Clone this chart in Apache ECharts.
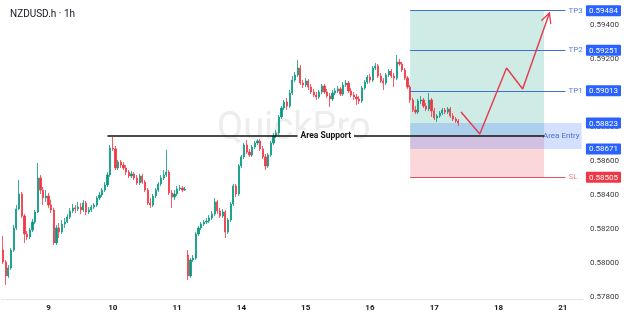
<!DOCTYPE html>
<html><head><meta charset="utf-8">
<script src="https://cdn.jsdelivr.net/npm/echarts@6/dist/echarts.min.js"></script>
<style>html,body{margin:0;padding:0;background:#fff}#c{width:624px;height:316px}</style>
</head><body><div id="c"></div><script>
// ---- data ----
const dayLabels = ['9','10','11','14','15','16','17','18','21'];
const firstDaySlot = 17, slotsPerDay = 24, totalSlots = 217;
// [open, close, low, high] hourly candles
const candles = [
 [0.58076,0.58006,0.57994,0.58159],[0.58006,0.57924,0.57871,0.58018],[0.57924,0.57971,0.57912,0.57988],
 [0.57971,0.58076,0.57959,0.58088],[0.58076,0.58206,0.58065,0.58224],[0.58206,0.58318,0.58194,0.58341],
 [0.58318,0.58406,0.58312,0.58488],[0.58406,0.58276,0.58265,0.58418],[0.58276,0.58171,0.58118,0.58288],
 [0.58171,0.58153,0.58135,0.58188],[0.58153,0.58194,0.58141,0.58206],[0.58194,0.58241,0.58182,0.58259],
 [0.58241,0.58300,0.58229,0.58312],[0.58300,0.58500,0.58294,0.58588],[0.58500,0.58429,0.58406,0.58518],
 [0.58429,0.58382,0.58341,0.58447],[0.58382,0.58394,0.58359,0.58429],[0.58394,0.58341,0.58324,0.58412],
 [0.58341,0.58312,0.58294,0.58371],[0.58312,0.58118,0.58106,0.58324],[0.58118,0.58206,0.58106,0.58224],
 [0.58206,0.58182,0.58147,0.58235],[0.58182,0.58229,0.58171,0.58253],[0.58229,0.58241,0.58206,0.58265],
 [0.58241,0.58271,0.58235,0.58288],[0.58271,0.58306,0.58259,0.58324],[0.58306,0.58324,0.58294,0.58347],
 [0.58324,0.58318,0.58294,0.58341],[0.58318,0.58329,0.58306,0.58359],[0.58329,0.58312,0.58288,0.58353],
 [0.58312,0.58353,0.58300,0.58371],[0.58353,0.58300,0.58282,0.58365],[0.58300,0.58312,0.58288,0.58329],
 [0.58312,0.58329,0.58300,0.58341],[0.58329,0.58341,0.58318,0.58353],[0.58341,0.58382,0.58329,0.58394],
 [0.58382,0.58400,0.58371,0.58418],[0.58400,0.58429,0.58388,0.58441],[0.58429,0.58459,0.58418,0.58476],
 [0.58459,0.58518,0.58447,0.58535],[0.58518,0.58676,0.58506,0.58694],[0.58676,0.58671,0.58659,0.58741],
 [0.58671,0.58559,0.58547,0.58688],[0.58559,0.58594,0.58547,0.58606],[0.58594,0.58576,0.58559,0.58606],
 [0.58576,0.58559,0.58547,0.58594],[0.58559,0.58535,0.58518,0.58576],[0.58535,0.58512,0.58500,0.58547],
 [0.58512,0.58524,0.58500,0.58541],[0.58524,0.58500,0.58488,0.58535],[0.58500,0.58471,0.58459,0.58518],
 [0.58471,0.58512,0.58459,0.58524],[0.58512,0.58476,0.58465,0.58524],[0.58476,0.58429,0.58418,0.58488],
 [0.58429,0.58353,0.58341,0.58441],[0.58353,0.58341,0.58324,0.58382],[0.58341,0.58394,0.58329,0.58406],
 [0.58394,0.58429,0.58382,0.58441],[0.58429,0.58465,0.58418,0.58476],[0.58465,0.58500,0.58453,0.58518],
 [0.58500,0.58518,0.58488,0.58547],[0.58518,0.58535,0.58506,0.58665],[0.58535,0.58412,0.58400,0.58547],
 [0.58412,0.58388,0.58324,0.58429],[0.58388,0.58406,0.58371,0.58429],[0.58406,0.58435,0.58394,0.58453],
 [0.58435,0.58441,0.58424,0.58459],[0.58441,0.58429,0.58418,0.58453],[0.58429,0.58435,0.58424,0.58447],
 [0.58047,0.57924,0.57900,0.58076],[0.57924,0.58018,0.57912,0.58029],[0.58018,0.58029,0.58006,0.58047],
 [0.58029,0.58171,0.58018,0.58182],[0.58171,0.58206,0.58159,0.58218],[0.58206,0.58229,0.58194,0.58241],
 [0.58229,0.58241,0.58218,0.58253],[0.58241,0.58247,0.58229,0.58265],[0.58247,0.58265,0.58235,0.58282],
 [0.58265,0.58288,0.58253,0.58306],[0.58288,0.58359,0.58276,0.58382],[0.58359,0.58306,0.58288,0.58371],
 [0.58306,0.58276,0.58265,0.58324],[0.58276,0.58300,0.58265,0.58318],[0.58300,0.58182,0.58147,0.58312],
 [0.58182,0.58253,0.58171,0.58265],[0.58253,0.58347,0.58241,0.58359],[0.58347,0.58453,0.58335,0.58465],
 [0.58453,0.58406,0.58388,0.58465],[0.58406,0.58571,0.58394,0.58582],[0.58571,0.58624,0.58559,0.58635],
 [0.58624,0.58694,0.58612,0.58706],[0.58694,0.58653,0.58641,0.58724],[0.58653,0.58635,0.58624,0.58671],
 [0.58635,0.58682,0.58624,0.58694],[0.58682,0.58706,0.58671,0.58718],[0.58706,0.58718,0.58694,0.58729],
 [0.58718,0.58671,0.58659,0.58729],[0.58671,0.58624,0.58612,0.58688],[0.58624,0.58571,0.58547,0.58641],
 [0.58571,0.58635,0.58559,0.58647],[0.58635,0.58706,0.58624,0.58718],[0.58706,0.58747,0.58694,0.58765],
 [0.58747,0.58765,0.58735,0.58782],[0.58765,0.58859,0.58753,0.58871],[0.58859,0.58912,0.58847,0.58923],
 [0.58912,0.58947,0.58900,0.58959],[0.58947,0.58923,0.58900,0.58971],[0.58923,0.59000,0.58912,0.59018],
 [0.59000,0.59076,0.58988,0.59100],[0.59076,0.59106,0.59065,0.59124],[0.59106,0.59147,0.59094,0.59194],
 [0.59147,0.59059,0.59047,0.59165],[0.59059,0.59047,0.59029,0.59076],[0.59047,0.59071,0.59035,0.59088],
 [0.59071,0.59035,0.59018,0.59082],[0.59035,0.59006,0.58994,0.59053],[0.59006,0.58988,0.58976,0.59024],
 [0.58988,0.58976,0.58959,0.59006],[0.58976,0.59006,0.58965,0.59018],[0.59006,0.59041,0.58994,0.59053],
 [0.59041,0.59006,0.58994,0.59053],[0.59006,0.58982,0.58971,0.59024],[0.58982,0.58965,0.58918,0.59000],
 [0.58965,0.59000,0.58953,0.59018],[0.59000,0.59012,0.58988,0.59029],[0.59012,0.59024,0.59000,0.59041],
 [0.59024,0.58994,0.58982,0.59035],[0.58994,0.59047,0.58982,0.59065],[0.59047,0.59059,0.59035,0.59076],
 [0.59059,0.59012,0.59000,0.59071],[0.59012,0.58988,0.58976,0.59029],[0.58988,0.58976,0.58959,0.59006],
 [0.58976,0.58965,0.58929,0.58994],[0.58965,0.58953,0.58935,0.58982],[0.58953,0.59029,0.58941,0.59041],
 [0.59029,0.59065,0.59018,0.59076],[0.59065,0.59094,0.59053,0.59106],[0.59094,0.59076,0.59059,0.59112],
 [0.59076,0.59147,0.59065,0.59159],[0.59147,0.59159,0.59135,0.59177],[0.59159,0.59100,0.59088,0.59171],
 [0.59100,0.59071,0.59059,0.59118],[0.59071,0.59059,0.59018,0.59088],[0.59059,0.59106,0.59047,0.59118],
 [0.59106,0.59129,0.59094,0.59141],[0.59129,0.59100,0.59088,0.59141],[0.59100,0.59088,0.59035,0.59118],
 [0.59088,0.59182,0.59076,0.59224],[0.59182,0.59171,0.59159,0.59200],[0.59171,0.59135,0.59124,0.59182],
 [0.59135,0.59088,0.59076,0.59147],[0.59088,0.59035,0.59024,0.59100],[0.59035,0.58959,0.58941,0.59047],
 [0.58959,0.58900,0.58888,0.58971],[0.58900,0.58888,0.58876,0.58923],[0.58888,0.58953,0.58876,0.58965],
 [0.58953,0.58959,0.58935,0.58982],[0.58959,0.58923,0.58912,0.58971],[0.58923,0.58906,0.58894,0.58941],
 [0.58906,0.58959,0.58894,0.59000],[0.58959,0.58894,0.58859,0.58971],[0.58894,0.58853,0.58841,0.58912],
 [0.58853,0.58865,0.58829,0.58876],[0.58865,0.58882,0.58853,0.58894],[0.58882,0.58900,0.58871,0.58912],
 [0.58900,0.58888,0.58876,0.58912],[0.58888,0.58906,0.58876,0.58918],[0.58906,0.58865,0.58853,0.58918],
 [0.58865,0.58847,0.58835,0.58882],[0.58847,0.58835,0.58824,0.58859],[0.58835,0.58824,0.58806,0.58847]
];
const yMin = 0.577882, yMax = 0.595471;
const yTicks = [0.578, 0.580, 0.582, 0.584, 0.586, 0.588, 0.590, 0.592, 0.594];
const tp3 = 0.59484, tp2 = 0.59251, tp1 = 0.59013;
const entryTop = 0.58823, entryBottom = 0.58671, sl = 0.58505;
const supportPrice = 0.58747;
const levelValues = [tp3, tp2, tp1, entryTop, entryBottom, sl];
const arrowPath = [[171,0.58888],[178,0.58759],[188,0.59147],[194,0.59024],[204,0.59471]];
const tradeStart = 152, tradeEnd = 202, levelLineEnd = 210, supportStart = 39, lastSlot = 216;

// ---- chart ----
const categories = Array.from({length: totalSlots}, (_, i) => {
  const k = i - firstDaySlot;
  return (k >= 0 && k % slotsPerDay === 0 && dayLabels[k / slotsPerDay]) ? dayLabels[k / slotsPerDay] : '';
});
const blue = '#3d6fd6', red = '#e2404f';
function levelLine(v, name, color, textColor) {
  return [
    {coord: [tradeStart, v], lineStyle: {color: color, width: 1, type: 'solid'},
     label: {show: true, position: 'end', formatter: name, color: textColor, fontSize: 8, distance: 3}},
    {coord: [levelLineEnd, v]}
  ];
}
const arrowData = arrowPath.map((p, i) => i === arrowPath.length - 1 ? {
  value: p, symbol: 'path://M0,20 L5,10 L10,20 M5,0', symbolSize: [10, 20], symbolRotate: -19.5,
  itemStyle: {color: 'transparent', borderColor: red, borderWidth: 1.5}
} : p);

const chart = echarts.init(document.getElementById('c'), null, {renderer: 'canvas'});
chart.setOption({
  animation: false,
  backgroundColor: '#ffffff',
  textStyle: {fontFamily: 'Roboto, sans-serif'},
  title: {text: 'NZDUSD.h · 1h', left: 5, top: 4, textStyle: {fontSize: 10, fontWeight: 'normal', color: '#131722'}},
  graphic: [{type: 'text', x: 217, y: 129, z: -10, silent: true,
    style: {text: 'QuickPro', fontSize: 38, fontFamily: 'Roboto', fill: '#ededed', verticalAlign: 'middle', align: 'left'}}],
  grid: {left: 0, right: 40, top: 0, bottom: 17, containLabel: false},
  xAxis: {type: 'category', data: categories, boundaryGap: true,
    axisLine: {lineStyle: {color: '#e3e3e3'}}, axisTick: {show: false}, splitLine: {show: false},
    axisLabel: {interval: 0, color: '#131722', fontSize: 8, fontWeight: 'bold', margin: 5}},
  yAxis: [
    {type: 'value', position: 'right', min: yMin, max: yMax, splitLine: {show: false},
      axisLine: {show: false}, axisTick: {show: false},
      axisLabel: {customValues: yTicks, formatter: v => v.toFixed(5), fontSize: 8, color: '#3a3a3a', margin: 7}},
    {type: 'value', position: 'right', min: yMin, max: yMax, splitLine: {show: false}, z: 5,
      axisLine: {show: false}, axisTick: {show: false},
      axisLabel: {customValues: levelValues, margin: 3,
        formatter: v => (Math.abs(v - sl) < 1e-7 ? '{s|' : '{b|') + v.toFixed(5) + '}',
        rich: {
          b: {backgroundColor: '#2962ff', color: '#fff', fontSize: 8, padding: [2, 3, 1, 3], borderRadius: 1},
          s: {backgroundColor: '#f23645', color: '#fff', fontSize: 8, padding: [2, 3, 1, 3], borderRadius: 1}
        }}}
  ],
  series: [
    {type: 'candlestick', data: candles, barWidth: '62%', z: 3,
      itemStyle: {color: '#089981', color0: '#f23645', borderColor: '#089981', borderColor0: '#f23645', borderWidth: 0.8}},
    {type: 'line', data: arrowData, symbol: 'none', z: 6, silent: true,
      lineStyle: {color: red, width: 1.5},
      markArea: {silent: true, label: {show: false}, data: [
        [{coord: [tradeStart, tp3], itemStyle: {color: 'rgba(8,153,129,0.2)'}}, {coord: [tradeEnd, supportPrice]}],
        [{coord: [tradeStart, supportPrice], itemStyle: {color: 'rgba(242,54,69,0.2)'}}, {coord: [tradeEnd, sl]}],
        [{coord: [tradeStart, entryTop], itemStyle: {color: 'rgba(41,98,255,0.2)'},
          label: {show: true, position: 'insideRight', formatter: 'Area Entry', color: '#4a6fc7', fontSize: 8, distance: 2}},
         {coord: [lastSlot, entryBottom]}]
      ]},
      markLine: {silent: true, symbol: ['none', 'none'], data: [
        levelLine(tp3, 'TP3', blue, '#5b7fd9'),
        levelLine(tp2, 'TP2', blue, '#5b7fd9'),
        levelLine(tp1, 'TP1', blue, '#5b7fd9'),
        levelLine(sl, 'SL', '#e05263', '#e48692'),
        [{coord: [supportStart, supportPrice], lineStyle: {color: '#111', width: 1.5, type: 'solid'},
          label: {show: true, position: 'middle', distance: 0, verticalAlign: 'middle', formatter: 'Area Support', color: '#111', fontSize: 8.5,
            fontWeight: 'bold', backgroundColor: '#fff', padding: [1, 3]}},
         {coord: [tradeEnd, supportPrice]}]
      ]}}
  ]
});
</script></body></html>
